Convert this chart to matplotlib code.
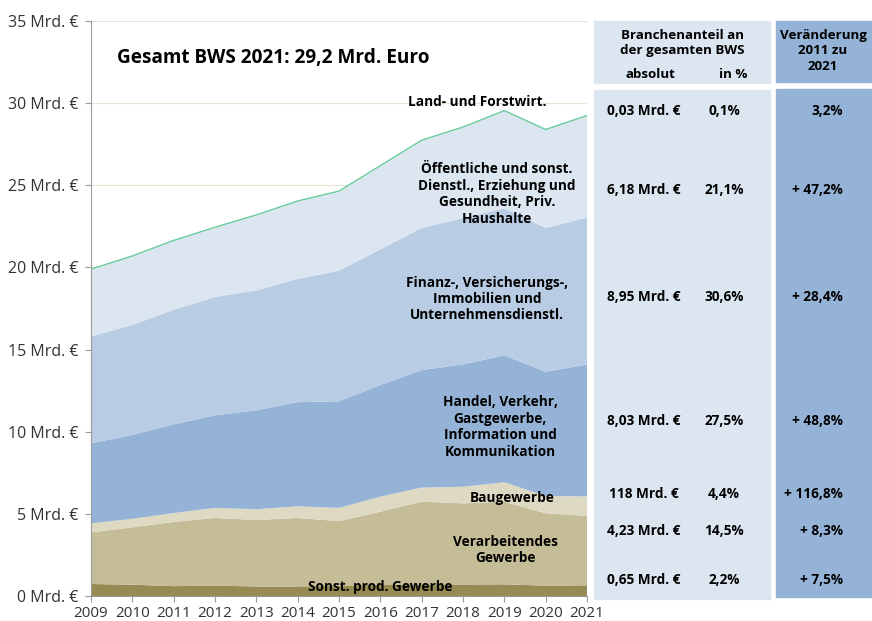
import numpy as np
import matplotlib
matplotlib.use("Agg")
import matplotlib.pyplot as plt
from matplotlib.patches import Rectangle

plt.rcParams["font.family"] = ["Open Sans", "DejaVu Sans"]

years = list(range(2009, 2022))
sonst = [0.73, 0.69, 0.60, 0.63, 0.58, 0.58, 0.62, 0.70, 0.71, 0.70, 0.71, 0.63, 0.65]
verarb = [3.14, 3.49, 3.91, 4.12, 4.05, 4.17, 3.94, 4.43, 5.03, 4.94, 5.03, 4.40, 4.23]
bau = [0.55, 0.52, 0.54, 0.61, 0.65, 0.71, 0.80, 0.92, 0.86, 1.01, 1.18, 1.06, 1.18]
handel = [4.88, 5.10, 5.40, 5.64, 6.02, 6.34, 6.49, 6.80, 7.15, 7.45, 7.73, 7.56, 8.03]
finanz = [6.50, 6.70, 6.97, 7.20, 7.30, 7.50, 7.95, 8.25, 8.65, 8.90, 8.95, 8.75, 8.95]
oeff = [4.07, 4.17, 4.20, 4.22, 4.57, 4.72, 4.82, 5.07, 5.32, 5.52, 5.92, 5.97, 6.18]
land = [0.03] * 13

colors = ["#958b53", "#c4bd97", "#ddd9c3", "#95b3d7", "#b8cce4", "#dce6f1", "#66cc99"]

labels = [
    ("Land- und Forstwirt.", 477, 102),
    ("Öffentliche und sonst.\nDienstl., Erziehung und\nGesundheit, Priv.\nHaushalte", 497, 194),
    ("Finanz-, Versicherungs-,\nImmobilien und\nUnternehmensdienstl.", 487, 299),
    ("Handel, Verkehr,\nGastgewerbe,\nInformation und\nKommunikation", 500, 427),
    ("Baugewerbe", 512, 498),
    ("Verarbeitendes\nGewerbe", 505, 550),
    ("Sonst. prod. Gewerbe", 380, 587),
]

# table rows: absolute, percent, change, y pixel
tab_abs = ["0,03 Mrd. €", "6,18 Mrd. €", "8,95 Mrd. €", "8,03 Mrd. €", "118 Mrd. €", "4,23 Mrd. €", "0,65 Mrd. €"]
tab_pct = ["0,1%", "21,1%", "30,6%", "27,5%", "4,4%", "14,5%", "2,2%"]
tab_chg = ["3,2%", "+ 47,2%", "+ 28,4%", "+ 48,8%", "+ 116,8%", "+ 8,3%", "+ 7,5%"]
tab_y = [111, 190, 297, 421, 494, 531, 580]

W, H = 872, 621
fig = plt.figure(figsize=(W / 100, H / 100), dpi=100)


def fx(px):
    return px / W


def fy(py):
    return 1 - py / H


ax = fig.add_axes([fx(91), fy(596), fx(587) - fx(91), fy(21) - fy(596)])
ax.stackplot(years, sonst, verarb, bau, handel, finanz, oeff, land, colors=colors, zorder=2)
total = np.sum([sonst, verarb, bau, handel, finanz, oeff, land], axis=0)
ax.plot(years, total, color="#66cc99", lw=0.9, zorder=3)

ax.set_xlim(2009, 2021)
ax.set_ylim(0, 35)
ax.set_xticks(years)
ax.set_xticklabels([str(y) for y in years], fontsize=11)
yt = list(range(0, 36, 5))
ax.set_yticks(yt)
ax.set_yticklabels([f"{v} Mrd. €" for v in yt], fontsize=11.5)
ax.grid(axis="y", color="#e4e4d4", lw=0.8, zorder=0)
for s in ["top", "right"]:
    ax.spines[s].set_visible(False)
for s in ["left", "bottom"]:
    ax.spines[s].set_color("#9a9a9a")
ax.tick_params(colors="#9a9a9a", labelcolor="#333333", length=4)
ax.tick_params(axis="y", pad=5)
ax.tick_params(axis="x", pad=3)

fig.text(fx(117), fy(58), "Gesamt BWS 2021: 29,2 Mrd. Euro", fontsize=13.7, fontweight="bold",
         ha="left", va="center")
for txt, x, y in labels:
    fig.text(fx(x), fy(y), txt, fontsize=9.8, fontweight="bold", ha="center", va="center",
             linespacing=1.22)

# table panels
def panel(x0, y0, x1, y1, c):
    fig.patches.append(Rectangle((fx(x0), fy(y1)), fx(x1) - fx(x0), fy(y0) - fy(y1),
                                 transform=fig.transFigure, color=c, zorder=0))


panel(594, 21, 770, 83, "#dce6f1")
panel(594, 90, 770, 599, "#dce6f1")
panel(776, 21, 872, 82, "#95b3d7")
panel(776, 89, 872, 597, "#95b3d7")

fig.text(fx(682), fy(43), "Branchenanteil an\nder gesamten BWS", fontsize=9.6, fontweight="bold",
         ha="center", va="center", linespacing=1.2)
fig.text(fx(650), fy(74), "absolut", fontsize=9.6, fontweight="bold", ha="center", va="center")
fig.text(fx(733), fy(74), "in %", fontsize=9.6, fontweight="bold", ha="center", va="center")
fig.text(fx(823), fy(51), "Veränderung\n2011 zu\n2021", fontsize=9.6, fontweight="bold",
         ha="center", va="center", linespacing=1.2)

for a, p, c, y in zip(tab_abs, tab_pct, tab_chg, tab_y):
    fig.text(fx(644), fy(y), a, fontsize=9.8, fontweight="bold", ha="center", va="center")
    fig.text(fx(724), fy(y), p, fontsize=9.8, fontweight="bold", ha="center", va="center")
    fig.text(fx(843), fy(y), c, fontsize=9.8, fontweight="bold", ha="right", va="center")

fig.savefig("out.png", dpi=100)
